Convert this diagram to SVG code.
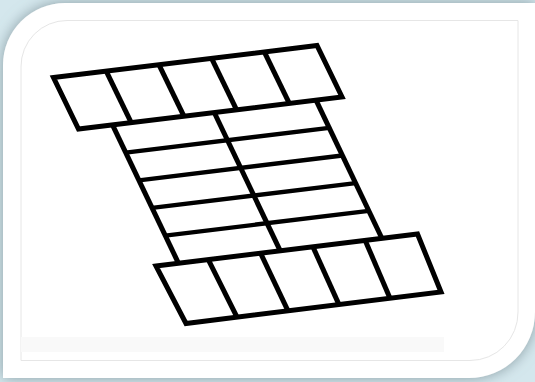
<svg xmlns="http://www.w3.org/2000/svg" width="535" height="382" viewBox="0 0 535 382">
  <defs>
    <filter id="shadow" x="-10%" y="-10%" width="120%" height="120%">
      <feDropShadow dx="0" dy="0" stdDeviation="7" flood-color="#6f848b" flood-opacity="0.75"/>
    </filter>
    <style>
      .frame-line { fill: none; stroke: #e6e6e6; stroke-width: 1; }
      .outline { fill: none; stroke: #000; stroke-width: 5; stroke-linejoin: miter; }
      .skew { stroke: #000; stroke-width: 5; stroke-linecap: butt; }
      .rule { stroke: #000; stroke-width: 4.3; stroke-linecap: butt; }
    </style>
  </defs>

  <g id="frame">
    <rect x="0" y="0" width="535" height="382" fill="#d4e7ed"/>
    <path d="M3,65 A62,62 0 0 1 65,3 L535,3 L535,312 A66,66 0 0 1 469,378 L3,378 Z" fill="#ffffff" filter="url(#shadow)"/>
    <path class="frame-line" d="M21,67 A46,46 0 0 1 67,20.5 L518,20.5 L518,312 A48,48 0 0 1 470,360.5 L21,360.5 Z"/>
    <rect x="21" y="337" width="423" height="15" fill="#f9f9f9"/>
  </g>

  <g id="top-row">
    <line class="skew" x1="106.2" y1="71.1" x2="131.2" y2="122.6"/>
    <line class="skew" x1="158.9" y1="64.7" x2="183.9" y2="116.2"/>
    <line class="skew" x1="211.6" y1="58.3" x2="236.6" y2="109.8"/>
    <line class="skew" x1="264.3" y1="51.9" x2="289.3" y2="103.4"/>
    <polygon class="outline" points="53.5,77.5 317,45.5 342,97 78.5,129"/>
  </g>

  <g id="middle-grid">
    <line class="rule" x1="125.7" y1="152.6" x2="329.2" y2="127.8"/>
    <line class="rule" x1="138.9" y1="180.3" x2="342.4" y2="155.5"/>
    <line class="rule" x1="152.1" y1="207.9" x2="355.6" y2="183.1"/>
    <line class="rule" x1="165.3" y1="235.6" x2="368.8" y2="210.8"/>
    <line class="skew" x1="112.5" y1="124.9" x2="178.5" y2="263.3"/>
    <line class="skew" x1="214.25" y1="112.5" x2="280.25" y2="250.9"/>
    <line class="skew" x1="316" y1="100.1" x2="382" y2="238.5"/>
  </g>

  <g id="bottom-row">
    <line class="skew" x1="208.3" y1="259.6" x2="237" y2="317.2"/>
    <line class="skew" x1="260.6" y1="253.2" x2="288" y2="310.9"/>
    <line class="skew" x1="312.9" y1="246.8" x2="339" y2="304.6"/>
    <line class="skew" x1="365.2" y1="240.4" x2="390" y2="298.3"/>
    <polygon class="outline" points="156,266 417.5,234 441,292 186,323.5"/>
  </g>
</svg>
